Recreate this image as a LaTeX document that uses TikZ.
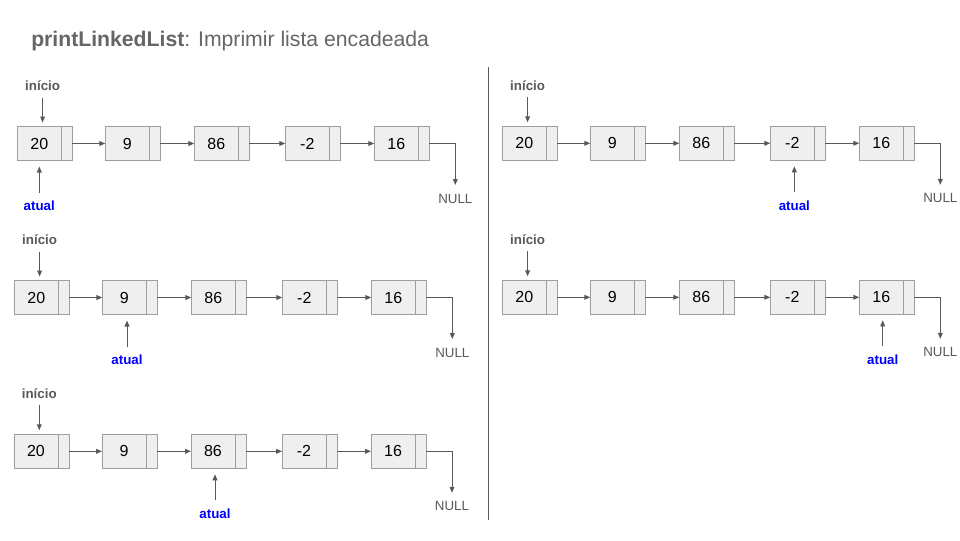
\documentclass[tikz,border=0pt]{standalone}
\usepackage{fontspec}
\setmainfont{Liberation Sans}
\usetikzlibrary{arrows.meta}
\definecolor{boxfill}{HTML}{EFEFEF}
\definecolor{boxline}{HTML}{9E9E9E}
\definecolor{arrcol}{HTML}{595959}
\definecolor{txtgray}{HTML}{595959}
\definecolor{titlegray}{HTML}{666666}
\definecolor{atualblue}{HTML}{0000FF}
\tikzset{
  cellmain/.style={draw=boxline, fill=boxfill, line width=0.75pt, minimum width=33pt,
    minimum height=25.5pt, inner sep=0pt, outer sep=0pt, anchor=north west,
    font=\fontsize{12}{14}\selectfont, text=black},
  cellptr/.style={draw=boxline, fill=boxfill, line width=0.75pt, minimum width=8.25pt,
    minimum height=25.5pt, inner sep=0pt, outer sep=0pt, anchor=north west},
  link/.style={draw=arrcol, line width=0.75pt, -{Triangle[length=4.5pt,width=3.6pt]}},
  inilbl/.style={font=\bfseries\fontsize{10}{12}\selectfont, text=txtgray, inner sep=0pt},
  atuallbl/.style={font=\bfseries\fontsize{10}{12}\selectfont, text=atualblue, inner sep=0pt},
  nulllbl/.style={font=\fontsize{10}{12}\selectfont, text=txtgray, inner sep=0pt},
}
% #1 id, #2 x of first box, #3 top y, #4 index of atual box, #5 x of atual arrow
\newcommand{\listblock}[5]{%
  \foreach \v/\dx [count=\i] in {20/0,9/88,86/177,-2/268,16/357} {
    \node[cellmain] (#1m\i) at (#2+\dx,#3) {\v};
    \node[cellptr] (#1p\i) at (#1m\i.north east) {};
  }
  \foreach \i [evaluate=\i as \j using int(\i+1)] in {1,...,4} {
    \draw[link] (#1p\i.east) -- (#1m\j.west);
  }
  % inicio
  \node[inilbl] (#1ini) at (#2+25.3,#3-41) {início};
  \coordinate (#1inis) at (#2+25.3,#3-29);
  \draw[link] (#1inis) -- ([yshift=3pt]#1m1.north -| #1inis);
  % atual
  \node[atuallbl] (#1at) at (#5,#3+34+45) {atual};
  \coordinate (#1ats) at (#5,#3+34+32);
  \draw[link] (#1ats) -- ([yshift=-4.5pt]#1m#4.south -| #1ats);
  % NULL
  \coordinate (#1nc) at (#2+438,#3+17+41.5);
  \draw[link] (#1p5.east) -| (#1nc);
  \node[nulllbl] (#1null) at (#2+438,#3+17+55) {NULL};
}
\begin{document}
\begin{tikzpicture}[x=0.75pt,y=-0.75pt]
  \useasboundingbox (0,0) rectangle (960,540);
  \fill[white] (0,0) rectangle (960,540);
  \node[anchor=base west, text=titlegray, font=\fontsize{15.9}{18}\selectfont, inner sep=0pt]
    (title) at (31,46.7) {\textbf{printLinkedList}: Imprimir lista encadeada};
  \draw[arrcol, line width=0.75pt] (488.3,67) -- (488.3,519.5);
  \listblock{La}{17.3}{126.5}{1}{39.3}
  \listblock{Lb}{14.3}{280.5}{2}{127}
  \listblock{Lc}{14}{434.3}{3}{215}
  \listblock{Ra}{502.3}{126.3}{4}{794.3}
  \listblock{Rb}{502.3}{280.3}{5}{882.7}
\end{tikzpicture}
\end{document}
